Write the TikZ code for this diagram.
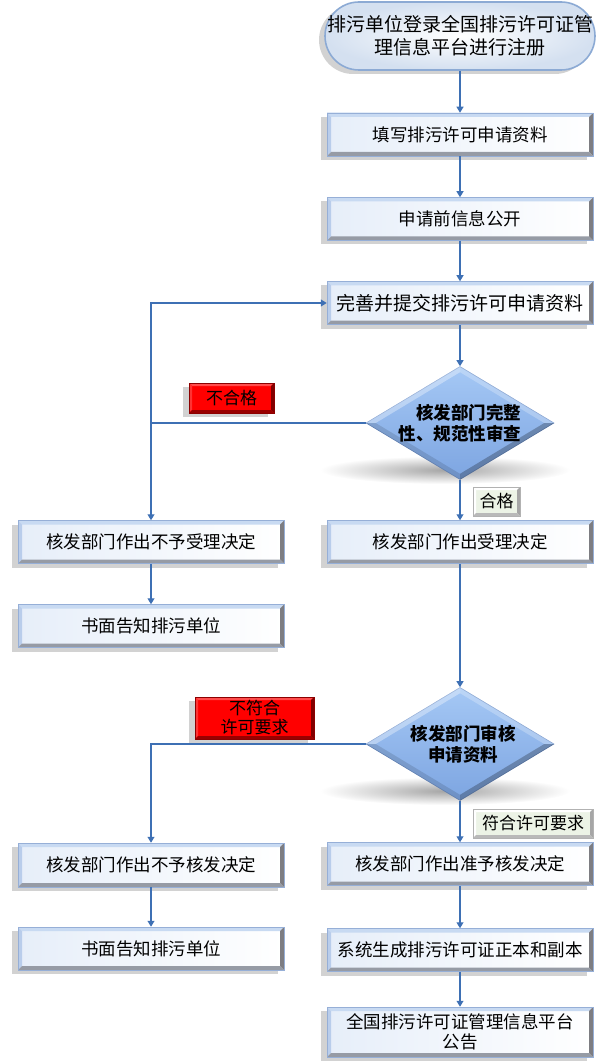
\documentclass[tikz,border=0pt]{standalone}
\usepackage{fontspec}
\setmainfont{Noto Sans CJK SC}
\usetikzlibrary{shapes.geometric,arrows.meta,calc,shadows}

\definecolor{linec}{RGB}{62,112,180}
\definecolor{boxborder}{RGB}{150,175,215}
\definecolor{boxleft}{RGB}{230,238,249}
\definecolor{bvtop}{RGB}{200,218,242}
\definecolor{bvleft}{RGB}{185,205,235}
\definecolor{bvright}{RGB}{125,125,130}
\definecolor{bvbot}{RGB}{150,155,165}
\definecolor{diatop}{RGB}{165,200,245}
\definecolor{diabot}{RGB}{125,165,225}
\definecolor{diaborder}{RGB}{110,145,200}
\definecolor{termout}{RGB}{212,224,240}
\definecolor{termborder}{RGB}{140,170,212}
\definecolor{greenfill}{RGB}{236,243,230}

\newcommand\bevelit[5]{%
  \coordinate (bNW) at (path picture bounding box.north west);
  \coordinate (bNE) at (path picture bounding box.north east);
  \coordinate (bSW) at (path picture bounding box.south west);
  \coordinate (bSE) at (path picture bounding box.south east);
  \fill[#2] (bNW) -- (bNE) -- ($(bNE)+(-#1,-#1)$) -- ($(bNW)+(#1,-#1)$) -- cycle;
  \fill[#3] (bNW) -- (bSW) -- ($(bSW)+(#1,#1)$) -- ($(bNW)+(#1,-#1)$) -- cycle;
  \fill[#4] (bNE) -- (bSE) -- ($(bSE)+(-#1,#1)$) -- ($(bNE)+(-#1,-#1)$) -- cycle;
  \fill[#5] (bSW) -- (bSE) -- ($(bSE)+(-#1,#1)$) -- ($(bSW)+(#1,#1)$) -- cycle;
}

\tikzset{
  boxshadow/.style={drop shadow={shadow xshift=-6pt, shadow yshift=-4pt, opacity=0.25, fill=black!70}},
  procbox/.style={rectangle, draw=boxborder, line width=0.5pt, left color=boxleft, right color=white,
    minimum width=266pt, minimum height=43pt, inner sep=2pt, align=center,
    font=\fontsize{17.5}{20}\selectfont, boxshadow,
    path picture={\bevelit{4pt}{bvtop}{bvleft}{bvright}{bvbot}}},
  termbox/.style={rectangle, rounded corners=34pt, draw=termborder, line width=1.6pt,
    inner color=white, outer color=termout, minimum width=266pt, minimum height=68pt,
    inner sep=2pt, align=center, font=\fontsize{19}{23}\selectfont, boxshadow},
  decbox/.style={diamond, draw=diaborder, line width=0.6pt, top color=diatop, bottom color=diabot,
    minimum width=188pt, minimum height=113pt, inner sep=0pt},
  dectext/.style={font=\bfseries\fontsize{17.5}{21}\selectfont, inner sep=0pt},
  redlab/.style={rectangle, fill=red, draw=red!55!black, line width=0.5pt, inner sep=1pt,
    align=center, font=\fontsize{17}{20}\selectfont, boxshadow,
    path picture={\bevelit{3pt}{red!70!white}{red!80!white}{red!50!black}{red!60!black}}},
  greenlab/.style={rectangle, fill=greenfill, draw=gray!60, line width=0.5pt, inner sep=1pt,
    align=center, font=\fontsize{17}{20}\selectfont,
    path picture={\bevelit{3pt}{white}{white}{gray!70}{gray!55}}},
  arr/.style={draw=linec, line width=1.1pt, -{Triangle[width=7pt,length=6pt]}},
  floorshadow/.style={inner color=black!35, outer color=white}
}

\begin{document}
\begin{tikzpicture}[x=1pt,y=-1pt]
\useasboundingbox (0,0) rectangle (600,1064);

% shadows under the diamonds
\shade[floorshadow] (445,470) ellipse [x radius=125pt, y radius=14pt];
\shade[floorshadow] (445,791) ellipse [x radius=125pt, y radius=14pt];

% nodes
\node[termbox] (top) at (460,36) {排污单位登录全国排污许可证管\\理信息平台进行注册};
\node[procbox] (b2) at (460,134.5) {填写排污许可申请资料};
\node[procbox] (b3) at (460,219) {申请前信息公开};
\node[procbox, font=\fontsize{19}{22}\selectfont] (b4) at (460,303) {完善并提交排污许可申请资料};
\node[decbox] (d1) at (460,423) {};
\node[procbox] (acc) at (460,542) {核发部门作出受理决定};
\node[procbox] (rej1) at (151,542) {核发部门作出不予受理决定};
\node[procbox] (not1) at (151,626) {书面告知排污单位};
\node[decbox] (d2) at (460,744) {};
\node[procbox] (app) at (460,864) {核发部门作出准予核发决定};
\node[procbox, minimum height=44pt] (rej2) at (151,865) {核发部门作出不予核发决定};
\node[procbox] (not2) at (151,948.5) {书面告知排污单位};
\node[procbox] (sys) at (460,950) {系统生成排污许可证正本和副本};
\node[procbox, minimum height=50pt] (pub) at (460,1032) {全国排污许可证管理信息平台\\公告};

% diamond bevels
\foreach \d in {d1,d2}{
  \fill[white,opacity=.35] (\d.west) -- (\d.north) -- ($(\d.north)+(0,-6pt)$) -- ($(\d.west)+(10pt,0)$) -- cycle;
  \fill[white,opacity=.25] (\d.north) -- (\d.east) -- ($(\d.east)+(-10pt,0)$) -- ($(\d.north)+(0,-6pt)$) -- cycle;
  \fill[black,opacity=.12] (\d.west) -- (\d.south) -- ($(\d.south)+(0,6pt)$) -- ($(\d.west)+(10pt,0)$) -- cycle;
  \fill[black,opacity=.25] (\d.south) -- (\d.east) -- ($(\d.east)+(-10pt,0)$) -- ($(\d.south)+(0,6pt)$) -- cycle;
}
\node[dectext, align=right] (d1t) at (d1.center) {核发部门完整\\性、规范性审查};
\node[dectext, align=center] (d2t) at ($(d2.center)+(3pt,0)$) {核发部门审核\\申请资料};

% labels
\node[redlab, minimum width=85pt, minimum height=30pt] (l1) at (231.5,398) {不合格};
\node[greenlab, minimum width=47pt, minimum height=29pt] (l2) at (496.5,501.5) {合格};
\node[redlab, minimum width=119pt, minimum height=42pt, font=\fontsize{17}{19}\selectfont] (l3) at (254.5,718) {不符合\\许可要求};
\node[greenlab, minimum width=120pt, minimum height=29pt] (l4) at (533,823.5) {符合许可要求};

% connectors
\draw[arr] (top) -- (b2);
\draw[arr] (b2) -- (b3);
\draw[arr] (b3) -- (b4);
\draw[arr] (b4) -- (d1.north);
\draw[arr] (d1.south) -- (acc);
\coordinate (j1) at (rej1.north |- d1.west);
\draw[arr] (d1.west) -- (j1) -- (rej1.north);
\draw[arr] (j1) |- (b4.west);
\draw[arr] (rej1) -- (not1);
\draw[arr] (acc) -- (d2.north);
\draw[arr] (d2.west) -| (rej2.north);
\draw[arr] (d2.south) -- (app);
\draw[arr] (rej2) -- (not2);
\draw[arr] (app) -- (sys);
\draw[arr] (sys) -- (pub);
\end{tikzpicture}
\end{document}
